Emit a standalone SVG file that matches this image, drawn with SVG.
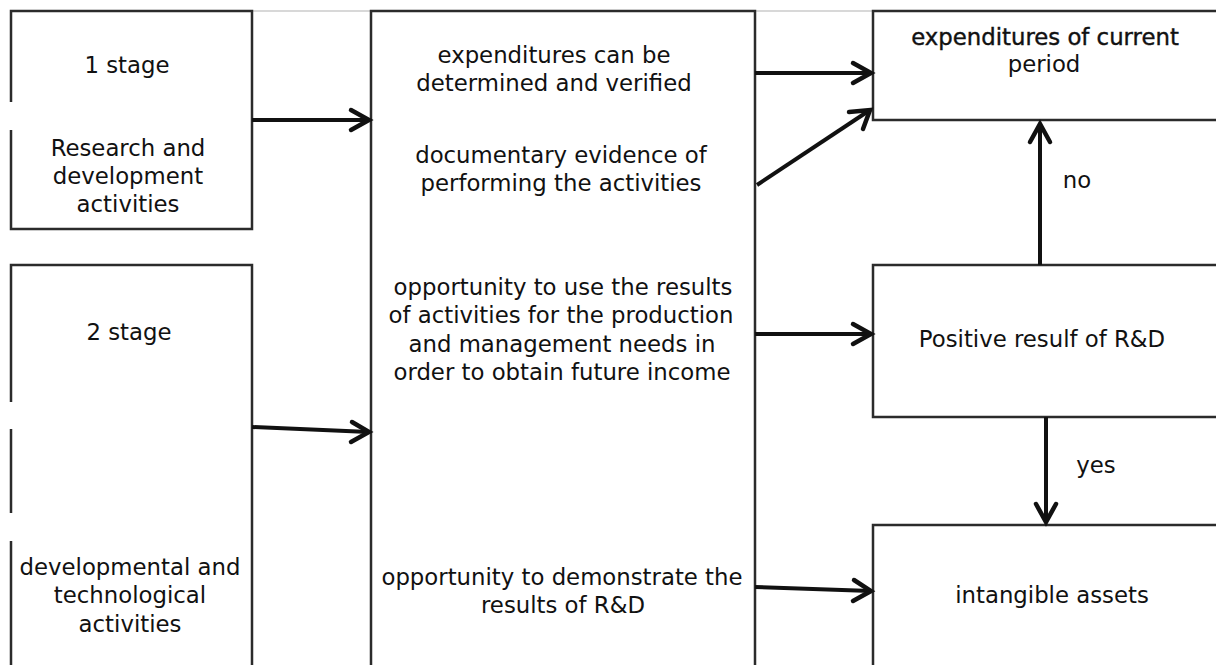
<svg xmlns="http://www.w3.org/2000/svg" width="1216" height="665" viewBox="0 0 1216 665">
<style>
.box{fill:none;stroke:#2b2b2b;stroke-width:2.5}
.faint{stroke:#d8d8d8;stroke-width:2}
.t{font-family:"DejaVu Sans",sans-serif;font-size:22.8px;fill:#111;text-anchor:middle}
.conn{stroke:#111;stroke-width:4;fill:none}
.head{stroke:#111;stroke-width:4.5;fill:none;stroke-linecap:round;stroke-linejoin:miter}
</style>
<rect width="1216" height="665" fill="#fff"/>
<g id="faint-lines">
<line class="faint" x1="252" y1="11" x2="371" y2="11"/>
<line class="faint" x1="755" y1="11" x2="873" y2="11"/>
</g>
<g id="stage1">
<path class="box" d="M11,102 V11 H252 V229 H11 V130"/>
<text class="t" x="127" y="73">1 stage</text>
<text class="t" x="128" y="156">Research and</text>
<text class="t" x="128" y="184">development</text>
<text class="t" x="128" y="212">activities</text>
</g>
<g id="stage2">
<path class="box" d="M11,402 V265 H252 V667 M11,429 V513 M11,541 V667"/>
<text class="t" x="129" y="340">2 stage</text>
<text class="t" x="130" y="575">developmental and</text>
<text class="t" x="130" y="603">technological</text>
<text class="t" x="130" y="632">activities</text>
</g>
<g id="criteria">
<path class="box" d="M371,667 V11 H755 V667"/>
<text class="t" x="554" y="63">expenditures can be</text>
<text class="t" x="554" y="91">determined and verified</text>
<text class="t" x="561" y="163">documentary evidence of</text>
<text class="t" x="561" y="191">performing the activities</text>
<text class="t" x="563" y="295">opportunity to use the results</text>
<text class="t" x="561" y="323">of activities for the production</text>
<text class="t" x="562" y="352">and management needs in</text>
<text class="t" x="562" y="380">order to obtain future income</text>
<text class="t" x="562" y="585">opportunity to demonstrate the</text>
<text class="t" x="563" y="613">results of R&amp;D</text>
</g>
<g id="expenditures">
<path class="box" d="M1218,11 H873 V120 H1218"/>
<text class="t" x="1045" y="45" stroke="#111" stroke-width="0.4">expenditures of current</text>
<text class="t" x="1044" y="72">period</text>
</g>
<g id="positive">
<path class="box" d="M1218,265 H873 V417 H1218"/>
<text class="t" x="1042" y="347">Positive resulf of R&amp;D</text>
</g>
<g id="intangible">
<path class="box" d="M1218,525 H873 V667"/>
<text class="t" x="1052" y="603">intangible assets</text>
</g>
<g id="connectors">
<line class="conn" x1="252" y1="120" x2="369" y2="120"/>
<polyline class="head" points="351,110 369,120 351,130"/>
<line class="conn" x1="755" y1="73" x2="871" y2="73"/>
<polyline class="head" points="853,63 871,73 853,83"/>
<line class="conn" x1="757" y1="185" x2="870" y2="110"/>
<polyline class="head" points="849,112 870,110 863,129"/>
<line class="conn" x1="252" y1="427" x2="369" y2="432"/>
<polyline class="head" points="352,422 369,432 351,442"/>
<line class="conn" x1="755" y1="334" x2="871" y2="334"/>
<polyline class="head" points="853,324 871,334 853,344"/>
<line class="conn" x1="755" y1="587" x2="871" y2="591"/>
<polyline class="head" points="854,580 871,591 853,601"/>
<line class="conn" x1="1040" y1="265" x2="1040" y2="124"/>
<polyline class="head" points="1030,142 1040,124 1050,142"/>
<line class="conn" x1="1046" y1="417" x2="1046" y2="522"/>
<polyline class="head" points="1036,504 1046,522 1056,504"/>
<text class="t" x="1077" y="188">no</text>
<text class="t" x="1096" y="473">yes</text>
</g>
</svg>
